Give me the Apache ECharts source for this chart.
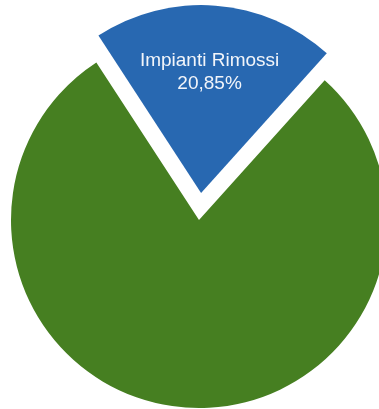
<!DOCTYPE html>
<html>
<head>
<meta charset="utf-8">
<script src="https://cdn.jsdelivr.net/npm/echarts@6/dist/echarts.min.js"></script>
<style>
html,body{margin:0;padding:0;background:#fff;}
#c{width:379px;height:409px;}
</style>
</head>
<body>
<div id="c"></div>
<script>
var categories = ['Impianti Rimossi', 'Altro'];
var values = [20.85, 79.15];
var colors = ['#2868B1', '#467F21'];
var showLabel = [true, false];

var chart = echarts.init(document.getElementById('c'), null, {renderer: 'canvas'});
var data = categories.map(function (name, i) {
  return {
    name: name,
    value: values[i],
    selected: i === 0,
    itemStyle: {color: colors[i]},
    label: {show: showLabel[i]}
  };
});
chart.setOption({
  animation: false,
  series: [{
    type: 'pie',
    center: [199, 220],
    radius: [0, 188],
    startAngle: 123.1,
    clockwise: true,
    selectedMode: 'single',
    selectedOffset: 27,
    silent: true,
    avoidLabelOverlap: false,
    label: {
      position: 'inside',
      rotate: 0,
      color: '#f2f5fa',
      fontFamily: 'Liberation Sans, Arial, sans-serif',
      fontSize: 19,
      lineHeight: 23,
      align: 'center',
      formatter: function (p) {
        return p.name + '\n' + p.value.toFixed(2).replace('.', ',') + '%';
      }
    },
    labelLine: {show: false},
    labelLayout: function (p) {
      return p.dataIndex === 0 ? {dy: -24, dx: 1} : {};
    },
    itemStyle: {borderWidth: 0},
    data: data
  }]
});
</script>
</body>
</html>
